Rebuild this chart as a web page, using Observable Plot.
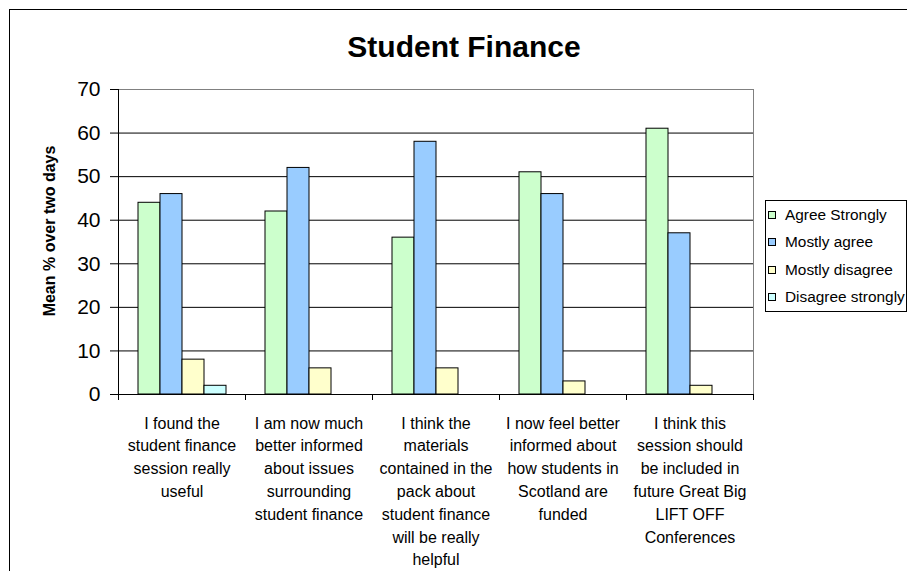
<!DOCTYPE html>
<html>
<head>
<meta charset="utf-8">
<script src="https://cdn.jsdelivr.net/npm/d3@7"></script>
<script src="https://cdn.jsdelivr.net/npm/@observablehq/plot@0.6"></script>
<style>
  html, body { margin: 0; padding: 0; background: #fff; }
  #wrap { position: relative; width: 907px; height: 571px; overflow: hidden; background: #fff;
          font-family: "Liberation Sans", Arial, sans-serif; color: #000; }
  #outer { position: absolute; left: 9px; top: 9px; width: 1200px; height: 1200px; border: 1px solid #000; box-sizing: border-box; }
  #title { position: absolute; left: 314px; width: 300px; top: 32px; text-align: center;
           font-weight: bold; font-size: 30px; line-height: 30px; }
  #ylabel { position: absolute; left: -50px; top: 222px; width: 200px; height: 18px; line-height: 18px;
            text-align: center; font-weight: bold; font-size: 16px; transform: rotate(-90deg); transform-origin: 50% 50%; white-space: nowrap; }
  #legend { position: absolute; left: 765px; top: 200px; width: 142px; border: 1px solid #000; box-sizing: border-box; background: #fff; }
  .item { height: 27.5px; display: flex; align-items: center; font-size: 15.4px; white-space: nowrap; }
  .sw { width: 8px; height: 8px; border: 1px solid #000; box-sizing: border-box; margin-left: 2px; margin-right: 9px; flex: none; }
  #chart { position: absolute; left: 0; top: 0; }
</style>
</head>
<body>
<div id="wrap">
  <div id="outer"></div>
  <div id="chart"></div>
  <div id="title"></div>
  <div id="ylabel"></div>
  <div id="legend"></div>
</div>
<script>
const titleText = "Student Finance";
const yLabel = "Mean % over two days";
const categories = [
  "I found the student finance session really useful",
  "I am now much better informed about issues surrounding student finance",
  "I think the materials contained in the pack about student finance will be really helpful",
  "I now feel better informed about how students in Scotland are funded",
  "I think this session should be included in future Great Big LIFT OFF Conferences"
];
const tickLabels = [
  "I found the\nstudent finance\nsession really\nuseful",
  "I am now much\nbetter informed\nabout issues\nsurrounding\nstudent finance",
  "I think the\nmaterials\ncontained in the\npack about\nstudent finance\nwill be really\nhelpful",
  "I now feel better\ninformed about\nhow students in\nScotland are\nfunded",
  "I think this\nsession should\nbe included in\nfuture Great Big\nLIFT OFF\nConferences"
];
const series = ["Agree Strongly", "Mostly agree", "Mostly disagree", "Disagree strongly"];
const colors = ["#CCFFCC", "#99CCFF", "#FFFFCC", "#CCFFFF"];
const agreeStrongly = [44, 42, 36, 51, 61];
const mostlyAgree = [46, 52, 58, 46, 37];
const mostlyDisagree = [8, 6, 6, 3, 2];
const disagreeStrongly = [2, 0, 0, 0, 0];
const yTicks = [0, 10, 20, 30, 40, 50, 60, 70];

const seriesValues = [agreeStrongly, mostlyAgree, mostlyDisagree, disagreeStrongly];
const data = categories.flatMap((c, i) => series.map((s, j) => ({category: c, series: s, value: seriesValues[j][i]})));

document.getElementById("title").textContent = titleText;
document.getElementById("ylabel").textContent = yLabel;
const legend = document.getElementById("legend");
series.forEach((s, j) => {
  const row = document.createElement("div");
  row.className = "item";
  const sw = document.createElement("span");
  sw.className = "sw";
  sw.style.background = colors[j];
  const t = document.createElement("span");
  t.textContent = s;
  row.appendChild(sw); row.appendChild(t);
  legend.appendChild(row);
});

const chart = Plot.plot({
  width: 907, height: 571,
  marginTop: 89, marginBottom: 177, marginLeft: 116, marginRight: 152,
  style: {fontFamily: "'Liberation Sans', Arial, sans-serif", background: "transparent", color: "#000", overflow: "visible"},
  fx: {domain: categories, paddingInner: 0, paddingOuter: 0, axis: null, label: null},
  x: {domain: series, paddingInner: 0, paddingOuter: 0.78, axis: null},
  y: {domain: [0, 70], axis: null},
  color: {domain: series, range: colors},
  marks: [
    Plot.ruleY(yTicks.filter(v => v > 0 && v < 70), {stroke: "#000"}),
    Plot.ruleY([70], {stroke: "#808080"}),
    Plot.barY(data, {fx: "category", x: "series", y: "value", fill: "series", stroke: "#000", strokeWidth: 1}),
    Plot.ruleY([0], {stroke: "#000"}),
    Plot.axisY({ticks: yTicks, tickSize: 8, tickPadding: 10, fontSize: 21, label: null}),
    Plot.axisFx({anchor: "bottom", tickSize: 0, tickPadding: 18, fontSize: 16, lineHeight: 1.425,
                 tickFormat: d => tickLabels[categories.indexOf(d)], label: null}),
    Plot.frame({anchor: "left", facetAnchor: "left", stroke: "#000"}),
    Plot.frame({anchor: "right", facetAnchor: "right", stroke: "#808080"})
  ]
});
document.getElementById("chart").appendChild(chart);

// category boundary ticks on the x axis, from the fx band scale
const fx = chart.scale("fx");
const ys = chart.scale("y");
const y0 = ys.apply(0);
const bounds = categories.map(c => fx.apply(c));
bounds.push(fx.apply(categories[categories.length - 1]) + fx.bandwidth);
const svg = d3.select(chart.tagName.toLowerCase() === "svg" ? chart : chart.querySelector("svg"));
svg.append("g").attr("stroke", "#000")
  .selectAll("line").data(bounds).join("line")
  .attr("x1", d => Math.round(d) + 0.5).attr("x2", d => Math.round(d) + 0.5)
  .attr("y1", y0).attr("y2", y0 + 6);
</script>
</body>
</html>
